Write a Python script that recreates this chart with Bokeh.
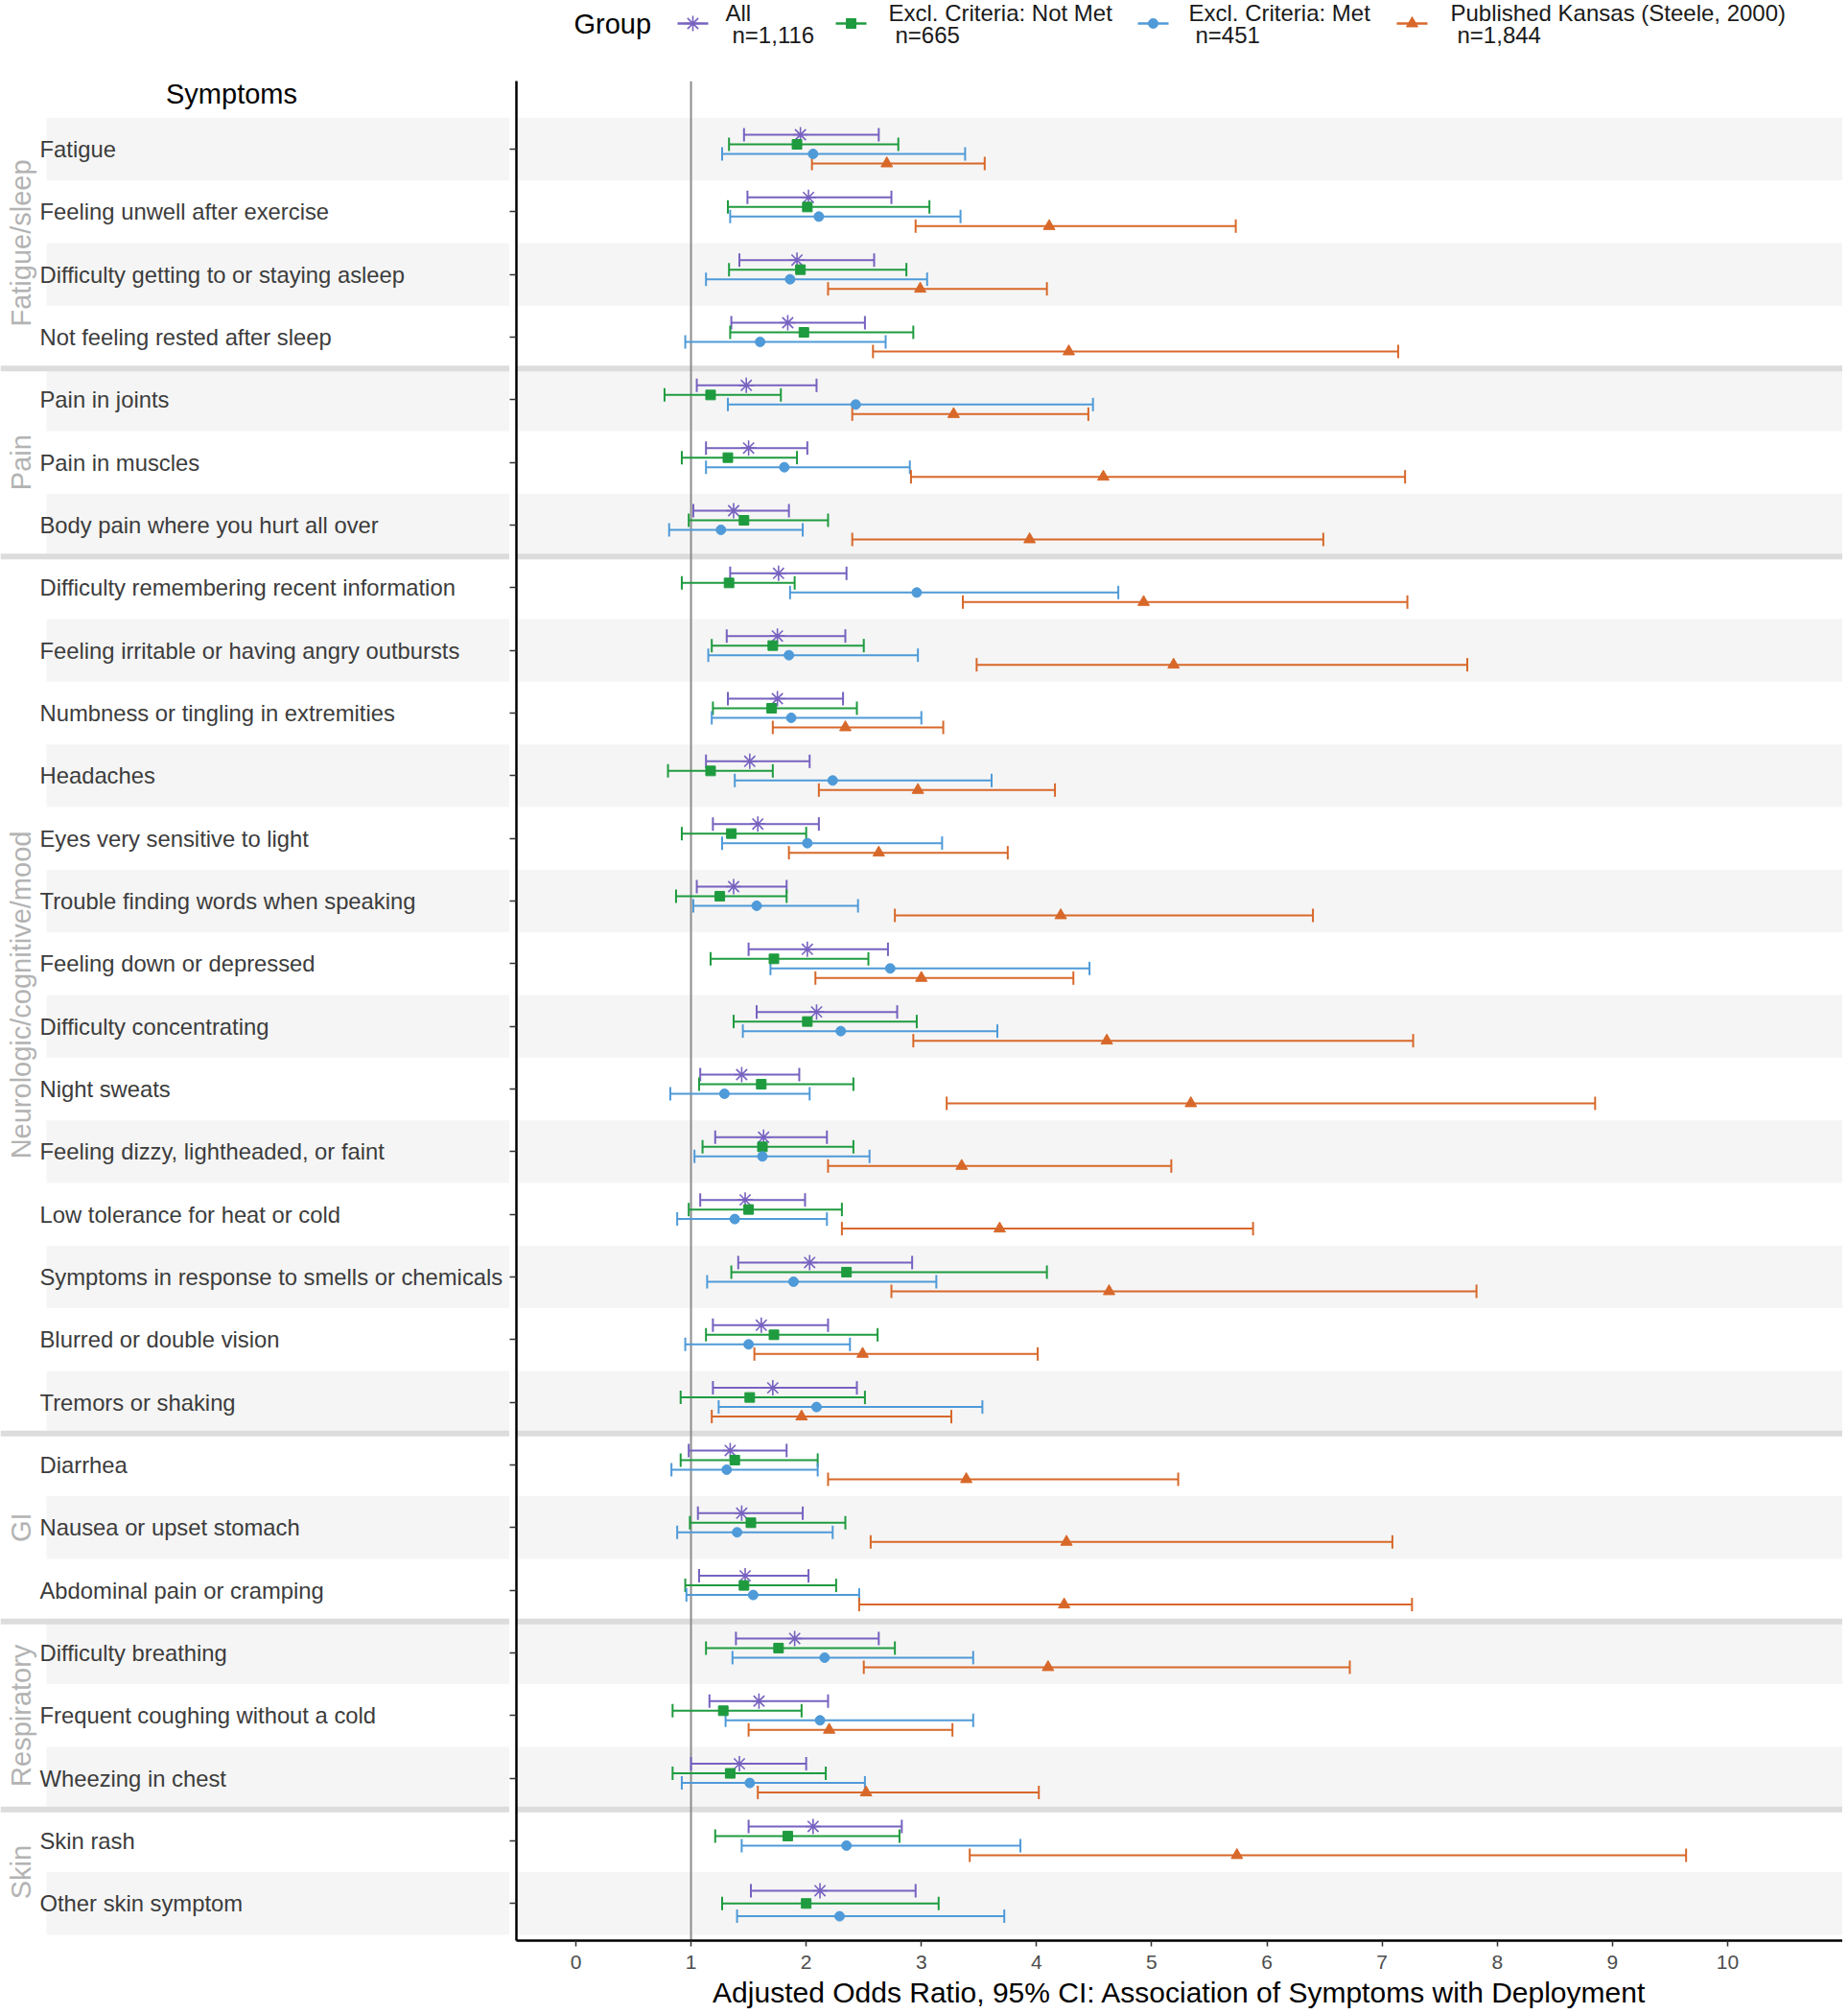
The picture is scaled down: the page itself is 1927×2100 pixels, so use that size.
import math
from bokeh.plotting import figure
from bokeh.models import ColumnDataSource, Range1d, FixedTicker, Span, Whisker, TeeHead
from bokeh.layouts import column, row
from bokeh.embed import file_html
from bokeh.resources import INLINE
from bokeh.core.properties import value

NAN = float("nan")

symptoms = [
    "Fatigue", "Feeling unwell after exercise", "Difficulty getting to or staying asleep",
    "Not feeling rested after sleep",
    "Pain in joints", "Pain in muscles", "Body pain where you hurt all over",
    "Difficulty remembering recent information", "Feeling irritable or having angry outbursts",
    "Numbness or tingling in extremities", "Headaches", "Eyes very sensitive to light",
    "Trouble finding words when speaking", "Feeling down or depressed", "Difficulty concentrating",
    "Night sweats", "Feeling dizzy, lightheaded, or faint", "Low tolerance for heat or cold",
    "Symptoms in response to smells or chemicals", "Blurred or double vision", "Tremors or shaking",
    "Diarrhea", "Nausea or upset stomach", "Abdominal pain or cramping",
    "Difficulty breathing", "Frequent coughing without a cold", "Wheezing in chest",
    "Skin rash", "Other skin symptom",
]
groups = (["Fatigue/sleep"] * 4 + ["Pain"] * 3 + ["Neurologic/cognitive/mood"] * 14
          + ["GI"] * 3 + ["Respiratory"] * 3 + ["Skin"] * 2)

series_names = ["All", "Excl. Criteria: Not Met", "Excl. Criteria: Met", "Published Kansas (Steele, 2000)"]
series_n = ["n=1,116", "n=665", "n=451", "n=1,844"]

all_est = [1.95, 2.02, 1.92, 1.84, 1.48, 1.50, 1.37, 1.76, 1.75, 1.75, 1.51, 1.58, 1.37, 2.01, 2.09,
           1.44, 1.63, 1.47, 2.03, 1.61, 1.71, 1.34, 1.44, 1.47, 1.90, 1.59, 1.42, 2.06, 2.12]
all_lo = [1.46, 1.49, 1.42, 1.35, 1.05, 1.13, 1.02, 1.34, 1.31, 1.32, 1.13, 1.19, 1.05, 1.50, 1.57,
          1.08, 1.21, 1.08, 1.41, 1.19, 1.19, 0.98, 1.06, 1.07, 1.39, 1.16, 1.00, 1.50, 1.52]
all_hi = [2.63, 2.74, 2.59, 2.51, 2.09, 2.01, 1.85, 2.35, 2.34, 2.32, 2.03, 2.11, 1.83, 2.71, 2.79,
          1.94, 2.18, 1.99, 2.92, 2.19, 2.44, 1.83, 1.97, 2.02, 2.63, 2.19, 2.00, 2.83, 2.95]

notmet_est = [1.92, 2.01, 1.95, 1.98, 1.17, 1.32, 1.46, 1.33, 1.71, 1.70, 1.17, 1.35, 1.25, 1.72, 2.01,
              1.61, 1.62, 1.50, 2.35, 1.72, 1.51, 1.38, 1.52, 1.46, 1.76, 1.28, 1.34, 1.84, 2.00]
notmet_lo = [1.33, 1.32, 1.33, 1.34, 0.77, 0.92, 0.98, 0.92, 1.18, 1.19, 0.80, 0.92, 0.87, 1.17, 1.37,
             1.07, 1.10, 0.98, 1.35, 1.13, 0.91, 0.91, 0.99, 0.95, 1.13, 0.84, 0.84, 1.21, 1.27]
notmet_hi = [2.80, 3.07, 2.87, 2.93, 1.78, 1.92, 2.19, 1.90, 2.50, 2.44, 1.71, 2.00, 1.83, 2.54, 2.96,
             2.41, 2.41, 2.31, 4.09, 2.62, 2.51, 2.10, 2.34, 2.26, 2.77, 1.96, 2.17, 2.81, 3.15]

met_est = [2.06, 2.11, 1.86, 1.60, 2.43, 1.81, 1.26, 2.96, 1.85, 1.87, 2.23, 2.01, 1.57, 2.73, 2.30,
           1.29, 1.62, 1.38, 1.89, 1.50, 2.09, 1.31, 1.40, 1.54, 2.16, 2.12, 1.51, 2.35, 2.29]
met_lo = [1.27, 1.34, 1.13, 0.95, 1.32, 1.13, 0.81, 1.86, 1.15, 1.18, 1.38, 1.27, 1.02, 1.69, 1.45,
          0.82, 1.03, 0.88, 1.14, 0.95, 1.24, 0.83, 0.88, 0.96, 1.36, 1.30, 0.92, 1.44, 1.40]
met_hi = [3.38, 3.34, 3.05, 2.69, 4.49, 2.90, 1.97, 4.71, 2.97, 3.00, 3.61, 3.18, 2.45, 4.46, 3.66,
          2.03, 2.55, 2.18, 3.13, 2.38, 3.53, 2.10, 2.23, 2.46, 3.45, 3.45, 2.51, 3.86, 3.72]

kansas_est = [2.70, 4.11, 2.99, 4.28, 3.28, 4.58, 3.94, 4.93, 5.19, 2.34, 2.97, 2.63, 4.21, 3.00, 4.61,
              5.34, 3.35, 3.68, 4.63, 2.49, 1.96, 3.39, 4.26, 4.24, 4.10, 2.20, 2.52, 5.74, NAN]
kansas_lo = [2.05, 2.95, 2.19, 2.58, 2.40, 2.91, 2.40, 3.36, 3.48, 1.71, 2.11, 1.85, 2.77, 2.08, 2.93,
             3.22, 2.19, 2.31, 2.74, 1.55, 1.18, 2.19, 2.56, 2.46, 2.50, 1.50, 1.58, 3.42, NAN]
kansas_hi = [3.55, 5.73, 4.09, 7.14, 4.45, 7.20, 6.49, 7.22, 7.74, 3.19, 4.16, 3.75, 6.40, 4.32, 7.27,
             8.85, 5.17, 5.88, 7.82, 4.01, 3.26, 5.23, 7.09, 7.26, 6.72, 3.27, 4.02, 9.64, NAN]

x_ticks = [0, 1, 2, 3, 4, 5, 6, 7, 8, 9, 10]
x_title = "Adjusted Odds Ratio, 95% CI: Association of Symptoms with Deployment"

colors = ["#7762c0", "#1f9b3f", "#4f9ad8", "#d8682a"]
markers = ["asterisk", "square", "circle", "triangle"]
msizes = [16, 10, 10, 12]
series = [(all_est, all_lo, all_hi), (notmet_est, notmet_lo, notmet_hi),
          (met_est, met_lo, met_hi), (kansas_est, kansas_lo, kansas_hi)]

FONT = "Liberation Sans"
rows = list(range(len(symptoms)))
DODGE_W = 0.612
Y_RANGE = Range1d(28.593, -1.087)
HEADER_Y = -0.888
LEG_H = 56
ROW_H = 2042
TOP_B = 28
BOT_B = 75

# ---- dodge positions ----
present = [[not math.isnan(s[0][i]) for s in series] for i in rows]
pos = [[None] * 4 for _ in rows]
for i in rows:
    idx = [k for k in range(4) if present[i][k]]
    n = len(idx)
    for j, k in enumerate(idx):
        pos[i][k] = i + (j - (n - 1) / 2) * (DODGE_W / n)

even_rows = [i for i in rows if i % 2 == 0]
boundaries = [i - 0.5 for i in rows[1:] if groups[i] != groups[i - 1]]
group_names = []
group_centers = []
for g in dict.fromkeys(groups):
    ids = [i for i in rows if groups[i] == g]
    group_names.append(g)
    group_centers.append((ids[0] + ids[-1]) / 2)

# ---- main plot ----
p = figure(width=1390, height=ROW_H, x_range=Range1d(-0.516, 11.0), y_range=Y_RANGE,
           output_backend="svg", toolbar_location=None, min_border_left=0, min_border_right=0,
           min_border_top=TOP_B, min_border_bottom=BOT_B)
p.outline_line_color = None
p.grid.visible = False
p.background_fill_color = "white"

p.quad(left=-2, right=13, top=[r - 0.5 for r in even_rows], bottom=[r + 0.5 for r in even_rows],
       fill_color="#f5f5f5", line_color=None, level="underlay")
p.segment(x0=[-2] * len(boundaries), x1=[13] * len(boundaries), y0=boundaries, y1=boundaries,
          line_color="#dcdcdc", line_width=6, level="underlay")
p.add_layout(Span(location=1, dimension="height", line_color="#8c8c8c", line_width=2, level="underlay"))

for k, (est, lo, hi) in enumerate(series):
    ids = [i for i in rows if present[i][k]]
    src = ColumnDataSource(dict(y=[pos[i][k] for i in ids], est=[est[i] for i in ids],
                                lo=[lo[i] for i in ids], hi=[hi[i] for i in ids]))
    c = colors[k]
    w = Whisker(source=src, base="y", lower="lo", upper="hi", dimension="width",
                line_color=c, line_width=2,
                upper_head=TeeHead(size=14, line_color=c, line_width=2),
                lower_head=TeeHead(size=14, line_color=c, line_width=2))
    p.add_layout(w)
    if markers[k] == "asterisk":
        p.scatter(x="est", y="y", source=src, marker="asterisk", size=msizes[k], line_color=c, line_width=1.6)
    else:
        p.scatter(x="est", y="y", source=src, marker=markers[k], size=msizes[k], fill_color=c, line_color=c)

p.xaxis.ticker = FixedTicker(ticks=x_ticks)
p.xaxis.axis_label = x_title
p.xaxis.axis_label_text_font = FONT
p.xaxis.axis_label_text_font_size = "30px"
p.xaxis.axis_label_text_font_style = "normal"
p.xaxis.axis_label_text_color = "black"
p.xaxis.axis_label_standoff = 5
p.xaxis.major_label_text_font = FONT
p.xaxis.major_label_text_font_size = "21px"
p.xaxis.major_label_text_color = "#4d4d4d"
p.xaxis.major_label_standoff = 9
p.xaxis.major_tick_out = 6
p.xaxis.major_tick_in = 0
p.xaxis.minor_tick_out = 0
p.xaxis.minor_tick_in = 0
p.xaxis.axis_line_width = 2.5
p.xaxis.axis_line_color = "black"
p.xaxis.major_tick_line_color = "#333333"
p.xaxis.major_tick_line_width = 1.5

p.yaxis.ticker = FixedTicker(ticks=rows)
p.yaxis.major_label_overrides = {i: "" for i in rows}
p.yaxis.major_label_text_font_size = "1px"
p.yaxis.major_label_standoff = 0
p.yaxis.major_tick_out = 7
p.yaxis.major_tick_in = 0
p.yaxis.minor_tick_out = 0
p.yaxis.minor_tick_in = 0
p.yaxis.axis_line_width = 2.5
p.yaxis.axis_line_color = "black"
p.yaxis.major_tick_line_color = "#333333"
p.yaxis.major_tick_line_width = 1.5

# ---- left label panel ----
lf = figure(width=531, height=ROW_H, x_range=Range1d(0, 531), y_range=Y_RANGE,
            output_backend="svg", toolbar_location=None, min_border_left=0, min_border_right=0,
            min_border_top=TOP_B, min_border_bottom=BOT_B, x_axis_location=None, y_axis_location=None)
lf.outline_line_color = None
lf.grid.visible = False
lf.quad(left=48, right=531, top=[r - 0.5 for r in even_rows], bottom=[r + 0.5 for r in even_rows],
        fill_color="#f5f5f5", line_color=None)
lf.segment(x0=[0] * len(boundaries), x1=[531] * len(boundaries), y0=boundaries, y1=boundaries,
           line_color="#dcdcdc", line_width=6)
lf.text(x=[41] * len(rows), y=rows, text=symptoms, text_font=value(FONT), text_font_size="23.8px",
        text_color="#3c3c3c", text_align="left", text_baseline="middle")
lf.text(x=[21] * len(group_names), y=group_centers, text=group_names, angle=math.pi / 2,
        text_font=value(FONT), text_font_size="29px", text_color="#b3b3b3",
        text_align="center", text_baseline="middle")
lf.text(x=[241], y=[HEADER_Y], text=["Symptoms"], text_font=value(FONT), text_font_size="29px",
        text_color="black", text_align="center", text_baseline="middle")

# ---- legend strip ----
lg = figure(width=1921, height=LEG_H, x_range=Range1d(0, 1921), y_range=Range1d(LEG_H, 0),
            output_backend="svg", toolbar_location=None, min_border_left=0, min_border_right=0,
            min_border_top=0, min_border_bottom=0, x_axis_location=None, y_axis_location=None)
lg.outline_line_color = None
lg.grid.visible = False
key_x = [722, 887, 1202, 1472]
lab_x = [756, 926, 1239, 1512]
KY = 24
lg.text(x=[598], y=[KY], text=["Group"], text_font=value(FONT), text_font_size="29px",
        text_color="black", text_align="left", text_baseline="middle")
for k in range(4):
    c = colors[k]
    lg.segment(x0=[key_x[k] - 16], x1=[key_x[k] + 16], y0=[KY], y1=[KY], line_color=c, line_width=2.5)
    if markers[k] == "asterisk":
        lg.scatter(x=[key_x[k]], y=[KY], marker="asterisk", size=msizes[k], line_color=c, line_width=1.6)
    else:
        lg.scatter(x=[key_x[k]], y=[KY], marker=markers[k], size=msizes[k], fill_color=c, line_color=c)
    lg.text(x=[lab_x[k]], y=[12.5], text=[series_names[k]], text_font=value(FONT), text_font_size="24px",
            text_color="#1a1a1a", text_align="left", text_baseline="middle")
    lg.text(x=[lab_x[k] + 7], y=[36], text=[series_n[k]], text_font=value(FONT), text_font_size="24px",
            text_color="#1a1a1a", text_align="left", text_baseline="middle")

layout = column(lg, row(lf, p))
open("out.html", "w").write(file_html(layout, INLINE))
